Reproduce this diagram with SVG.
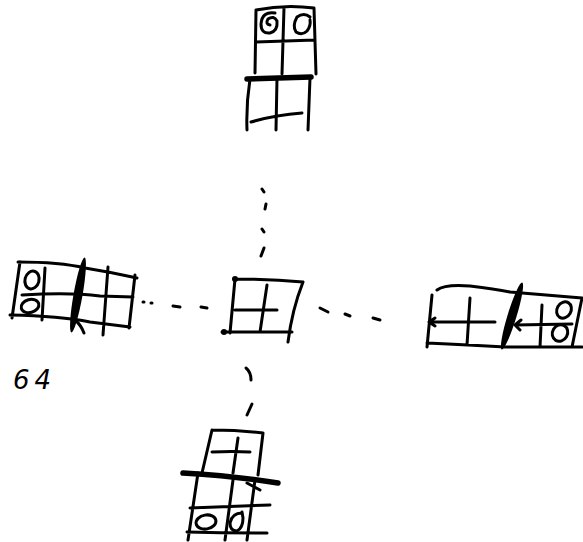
<svg xmlns="http://www.w3.org/2000/svg" width="583" height="542" viewBox="0 0 583 542">
<style>
.s{fill:none;stroke:#000;stroke-width:3;stroke-linecap:round;stroke-linejoin:round}
.t{fill:none;stroke:#000;stroke-width:5.5;stroke-linecap:round}
.b{fill:#000}
.d{fill:none;stroke:#000;stroke-width:3;stroke-linecap:round}
.lbl{font-family:"DejaVu Sans",sans-serif;font-style:italic;font-size:26px;fill:#000}
</style>
<rect width="583" height="542" fill="#fff"/>
<g id="connectors">
  <path class="d" d="M262,189 L264,192 M266,204 L265,209 M262,229 L264,232 M264,248 L261,256"/>
  <path class="d" d="M143,302 L144,302 M151,303 L152,303 M173,306 L180,307 M201,307 L207,308"/>
  <path class="d" d="M320,308 L328,312 M345,314 L350,316 M373,318 L380,320"/>
  <path class="d" d="M246,368 Q251,372 251,380 M252,404 L247,415"/>
</g>
<g id="node-top">
  <path class="s" d="M256,10 Q285,4 314,8 M256,10 L255,73 M314,8 L316,74 M256,42 L315,40 M284,8 L282,74"/>
  <path class="s" d="M275,13 Q262,11 261,24 Q261,34 270,33 Q278,31 277,21 Q274,15 268,19 Q265,24 270,25"/>
  <path class="s" d="M310,17 Q304,12 297,17 Q292,26 296,32 Q302,36 307,31 Q311,26 310,20"/>
  <path class="t" d="M247,79 L311,77"/>
  <path class="s" d="M250,79 Q246,105 247,130 M277,78 L276,130 M310,78 L308,130 M251,122 Q275,115 302,113"/>
</g>
<g id="node-center">
  <path class="s" d="M235,279 Q270,279 303,282 M235,279 L230,333 M303,282 Q292,310 288,342 M222,332 L292,332 M267,285 L260,332 M235,310 L277,310"/>
  <circle class="b" cx="235" cy="279" r="3"/>
  <circle class="b" cx="224" cy="332" r="3"/>
</g>
<g id="node-left">
  <path class="s" d="M18,262 Q60,262 85,268 Q110,272 137,278 M20,262 L12,318 M45,268 L42,320 M22,295 Q70,292 100,296 L133,297 M10,315 Q60,316 90,322 L130,327 M108,267 L103,335 M135,275 L129,328"/>
  <ellipse class="s" cx="32" cy="280" rx="7" ry="9" transform="rotate(15 32 280)"/>
  <ellipse class="s" cx="30" cy="306" rx="9" ry="6.5" transform="rotate(-15 30 306)"/>
  <ellipse class="b" cx="78" cy="295" rx="4.5" ry="38" transform="rotate(10 78 295)"/>
  <path class="s" d="M75,320 Q81,325 84,333"/>
</g>
<g id="node-right">
  <path class="s" d="M437,290 Q445,284 470,286 Q495,289 510,292 L582,298 M432,295 L427,347 M430,322 L495,322 M435,318 L429,322 L435,326 M470,298 L467,345 M427,343 Q470,345 505,347 L582,347 M515,325 L572,324 M521,320 L515,325 L520,330 M542,305 L540,347 M582,298 L572,347"/>
  <ellipse class="b" cx="512" cy="316" rx="4.5" ry="35" transform="rotate(17 512 316)"/>
  <ellipse class="s" cx="564" cy="310" rx="7" ry="8.5" transform="rotate(30 564 310)"/>
  <ellipse class="s" cx="560" cy="333" rx="7.5" ry="8.5" transform="rotate(30 560 333)"/>
</g>
<g id="node-bottom">
  <path class="s" d="M212,430 Q238,430 263,433 M212,430 L202,473 M263,433 L258,475 M238,438 L233,473 M212,452 Q232,451 250,452"/>
  <path class="t" d="M183,473 Q235,476 278,483"/>
  <path class="s" d="M247,483 L260,490 M198,473 L188,540 M233,480 L225,540 M255,480 L247,540 M190,508 Q230,506 270,505 M187,532 Q225,533 267,533"/>
  <ellipse class="s" cx="206" cy="522" rx="10" ry="7" transform="rotate(-10 206 522)"/>
  <path class="s" d="M242,513 Q232,513 230,523 Q230,531 237,531 Q243,528 243,518 L242,512"/>
</g>
<g id="label">
  <text class="lbl" x="13" y="389" letter-spacing="5">64</text>
</g>
</svg>
